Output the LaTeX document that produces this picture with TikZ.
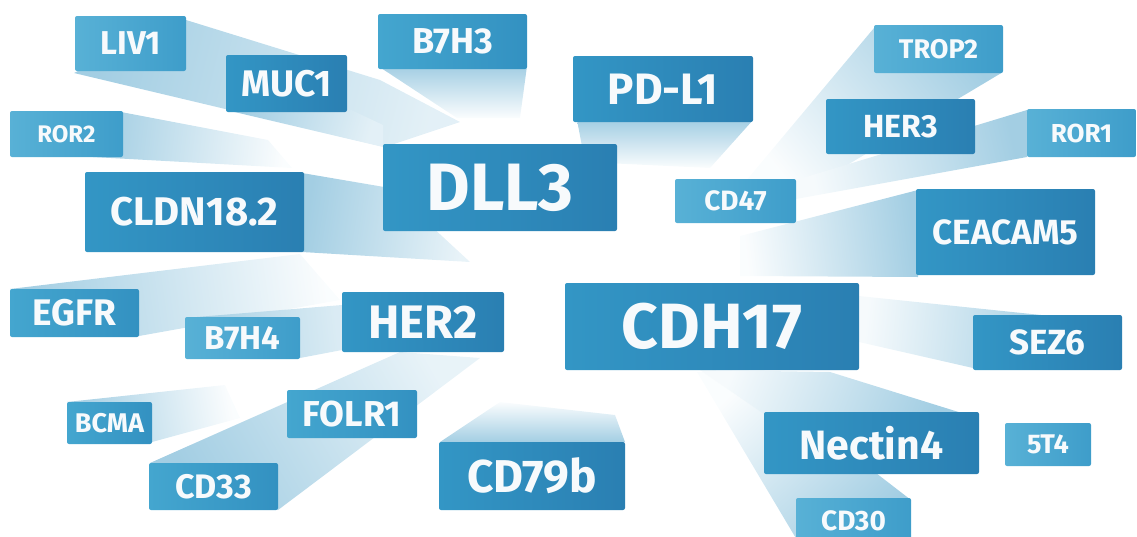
\documentclass[tikz,border=0pt]{standalone}
\usepackage{fontspec}
\setmainfont{Fira Sans}
\definecolor{bm}{HTML}{A3CEE3}
\definecolor{darkL}{HTML}{3396C5}
\definecolor{darkR}{HTML}{2A7FB2}
\definecolor{midL}{HTML}{44A6CF}
\definecolor{midR}{HTML}{3391C1}
\definecolor{liteL}{HTML}{58B1D6}
\definecolor{liteR}{HTML}{3E9DCA}
\definecolor{txt}{HTML}{F7FAFC}
\tikzset{
  beam/.style 2 args={top color=bm, bottom color=bm!#2, shading angle=#1},
  box/.style={rounded corners=2pt, inner sep=0pt, text=txt},
  dk/.style={box, left color=darkL, right color=darkR},
  md/.style={box, left color=midL, right color=midR},
  lt/.style={box, left color=liteL, right color=liteR},
  fs/.style={font=\bfseries\fontsize{#1}{#1}\selectfont}
}
\newcommand\tgt[8]{\node[#2, fs=#7, minimum width=#5pt, minimum height=#6pt] (#1) at (#3,#4) {#8};}
\begin{document}
\begin{tikzpicture}[x=1pt,y=-1pt]
\useasboundingbox (0,0) rectangle (1137,536);
\clip (0,0) rectangle (1137,536);
% beams
\shade[beam={76}{30}] (186,20) -- (74,73) -- (385,147) -- (460,122) -- (380,80) -- cycle;
\shade[beam={73}{30}] (226,110) -- (347,108) -- (383,125) -- (383,147) -- cycle;
\shade[beam={0}{5}] (378,66) -- (527,66) -- (520,118) -- (457,118) -- cycle;
\shade[beam={0}{5}] (577,120) -- (753,120) -- (710,168) -- (585,162) -- cycle;
\shade[beam={-51}{5}] (874,28) -- (1003,72) -- (792,198) -- (745,182) -- cycle;
\shade[beam={-77}{10}] (1027,110) -- (1027,157) -- (796,199) -- (796,180) -- cycle;
\shade[beam={-83}{5}] (918,190) -- (918,277) -- (740,276) -- (740,236) -- cycle;
\shade[beam={81}{25}] (302,173) -- (390,188) -- (470,262) -- (302,252) -- cycle;
\shade[beam={83}{5}] (121,112) -- (93,157) -- (292,168) -- (268,140) -- cycle;
\shade[beam={98}{5}] (10,289) -- (139,336) -- (340,300) -- (300,254) -- cycle;
\shade[beam={96}{40}] (185,318) -- (342,305) -- (342,350) -- (300,358) -- cycle;
\shade[beam={100}{5}] (67,402) -- (152,442) -- (240,418) -- (225,385) -- cycle;
\shade[beam={120}{25}] (400,352) -- (480,358) -- (278,510) -- (150,463) -- cycle;
\shade[beam={180}{5}] (440,442) -- (625,442) -- (615,415) -- (500,402) -- cycle;
\shade[beam={224}{5}] (697,372) -- (745,372) -- (911,500) -- (797,540) -- cycle;
\shade[beam={248}{10}] (700,370) -- (830,372) -- (965,414) -- (764,414) -- cycle;
\shade[beam={-96}{10}] (859,296) -- (1060,317) -- (973,368) -- (859,342) -- cycle;
% boxes
\tgt{liv1}{lt}{130.5}{43.5}{111}{55}{33}{LIV1}
\tgt{muc1}{dk}{286.5}{83.5}{121}{57}{37}{MUC1}
\tgt{b7h3}{md}{452.5}{41.5}{149}{55}{36}{B7H3}
\tgt{pdl1}{dk}{663}{89}{180}{66}{44}{PD-L1}
\tgt{trop2}{lt}{938.5}{49}{129}{48}{27}{TROP2}
\tgt{ror2}{lt}{66.5}{134}{113}{46}{24}{ROR2}
\tgt{dll3}{dk}{500}{187.5}{234}{87}{67}{DLL3}
\tgt{her3}{dk}{900.5}{126.5}{149}{55}{32}{HER3}
\tgt{ror1}{lt}{1081.5}{133}{109}{48}{26}{ROR1}
\tgt{cldn}{dk}{194.5}{212}{219}{80}{40}{CLDN18.2}
\tgt{cd47}{lt}{735.5}{201}{121}{44}{28}{CD47}
\tgt{ceacam}{dk}{1005.5}{232}{179}{86}{35}{CEACAM5}
\tgt{egfr}{md}{74.5}{313}{129}{48}{37}{EGFR}
\tgt{b7h4}{lt}{242.5}{338}{115}{42}{33}{B7H4}
\tgt{her2}{dk}{423}{322}{162}{60}{47}{HER2}
\tgt{cdh17}{dk}{712}{326.5}{294}{87}{64}{CDH17}
\tgt{sez6}{dk}{1047.5}{342.5}{149}{55}{35}{SEZ6}
\tgt{bcma}{md}{109.5}{423}{85}{42}{27}{BCMA}
\tgt{folr1}{md}{352}{414}{130}{48}{36}{FOLR1}
\tgt{nectin}{dk}{871.5}{443}{215}{62}{41}{Nectin4}
\tgt{t54}{lt}{1048}{444.5}{86}{43}{27}{5T4}
\tgt{cd33}{md}{213.5}{486.5}{129}{47}{34}{CD33}
\tgt{cd79b}{dk}{532}{476}{186}{68}{46}{CD79b}
\tgt{cd30}{lt}{853.5}{521}{115}{46}{28}{CD30}
\end{tikzpicture}
\end{document}
